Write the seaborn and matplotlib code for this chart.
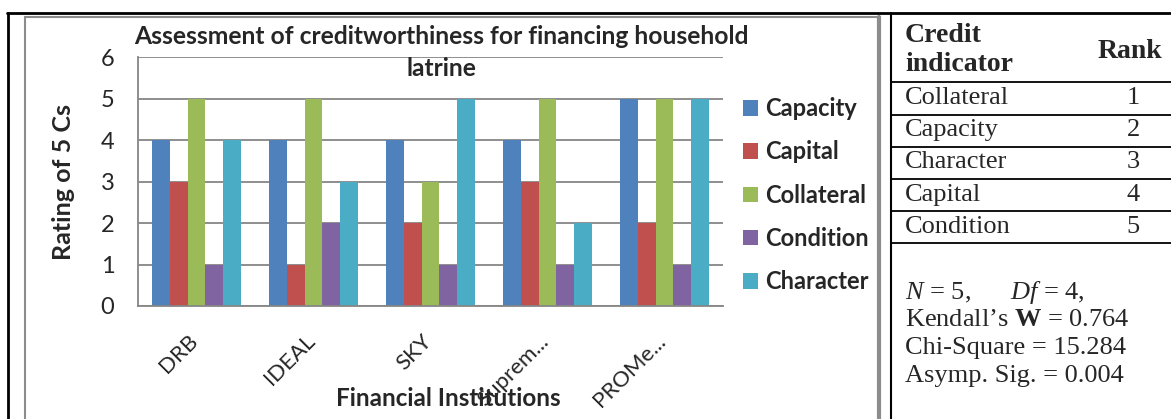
import numpy as np
import pandas as pd
import seaborn as sns
from matplotlib import pyplot as plt
from matplotlib.lines import Line2D
from matplotlib.transforms import ScaledTranslation

# Chart data
institutions = ["DRB", "IDEAL", "SKY", "Suprem...", "PROMe..."]
indicators = ["Capacity", "Capital", "Collateral", "Condition", "Character"]
capacity = [4, 4, 4, 4, 5]
capital = [3, 1, 2, 3, 2]
collateral = [5, 5, 3, 5, 5]
condition = [1, 2, 1, 1, 1]
character = [4, 3, 5, 2, 5]
colors = ["#4F81BD", "#C0504D", "#9BBB59", "#8064A2", "#4BACC6"]
y_ticks = [0, 1, 2, 3, 4, 5, 6]

# Rank table next to the chart
rank_names = ["Collateral", "Capacity", "Character", "Capital", "Condition"]
rank_values = [1, 2, 3, 4, 5]

# Long format frame for seaborn
series = [capacity, capital, collateral, condition, character]
rows = []
for name, vals in zip(indicators, series):
    for inst, v in zip(institutions, vals):
        rows.append({"institution": inst, "indicator": name, "rating": v})
df = pd.DataFrame(rows)

sns.set_style("white")
plt.rcParams['font.family'] = ['Lato', 'DejaVu Sans']
plt.rcParams['mathtext.fontset'] = 'custom'
plt.rcParams['mathtext.rm'] = 'Liberation Serif'
plt.rcParams['mathtext.it'] = 'Liberation Serif:italic'
plt.rcParams['mathtext.bf'] = 'Liberation Serif:bold'

W, H = 1171, 419
fig = plt.figure(figsize=(W / 100, H / 100), dpi=100)

def fx(px):
    return px / W

def fy(py):
    return 1 - py / H

ax = fig.add_axes([fx(138), fy(306), 585 / W, 249 / H])
sns.barplot(data=df, x="institution", y="rating", hue="indicator",
            palette=colors, width=0.76, saturation=1, edgecolor="none",
            linewidth=0, ax=ax)

grid_c = "#868686"
ax.set_ylim(0, 6)
ax.set_xlim(-0.5, len(institutions) - 0.5)
ax.set_yticks(y_ticks)
ax.yaxis.grid(True, color=grid_c, lw=1.3)
ax.set_axisbelow(True)
for s in ["top", "right"]:
    ax.spines[s].set_visible(False)
for s in ["left", "bottom"]:
    ax.spines[s].set_color(grid_c)
    ax.spines[s].set_linewidth(1.3)
ax.tick_params(axis="y", length=9, color=grid_c, width=1.3, labelsize=17, pad=8)
ax.set_xticks(np.arange(-0.5, len(institutions), 1.0), minor=True)
ax.tick_params(axis="x", which="minor", length=7, color=grid_c, width=1.3, direction="out")
ax.tick_params(axis="x", which="major", length=0, labelsize=16, pad=18)
ax.set_xticks(range(len(institutions)))
ax.set_xticklabels(institutions, rotation=45, ha="right", va="top")
shift = ScaledTranslation(5 / 100, 0, fig.dpi_scale_trans)
for lbl in ax.get_xticklabels():
    lbl.set_transform(lbl.get_transform() + shift)

ax.set_xlabel("Financial Institutions", fontsize=17.5, fontweight="bold")
ax.xaxis.set_label_coords((448 - 138) / 585, (306 - 387) / 249)
ax.set_ylabel("Rating of 5 Cs", fontsize=18, fontweight="bold")
ax.yaxis.set_label_coords((75 - 138) / 585, (306 - 182) / 249)

fig.text(fx(441), fy(37), "Assessment of creditworthiness for financing household",
         ha="center", va="center", fontsize=17.7, fontweight="bold")
fig.text(fx(441), fy(68), "latrine", ha="center", va="center",
         fontsize=17.7, fontweight="bold")

handles, labels = ax.get_legend_handles_labels()
ax.legend(handles, labels, loc="upper left", bbox_to_anchor=(fx(743), fy(97)),
          bbox_transform=fig.transFigure, frameon=False, borderpad=0,
          borderaxespad=0, handlelength=0.64, handleheight=0.64,
          handletextpad=0.3, labelspacing=0.86,
          prop={"weight": "bold", "size": 17})

# frames around chart and table
def hline(y, x0, x1, color="black", lw=1.5):
    fig.add_artist(Line2D([fx(x0), fx(x1)], [fy(y), fy(y)], color=color, lw=lw))

def vline(x, y0, y1, color="black", lw=1.5):
    fig.add_artist(Line2D([fx(x), fx(x)], [fy(y0), fy(y1)], color=color, lw=lw))

hline(13, 7, W, lw=2)
vline(8, 13, H, lw=2)
hline(17, 25, 880, color="#8c8c8c", lw=1.5)
vline(25, 17, H, color="#8c8c8c", lw=1.5)
vline(879, 17, H, color="#8c8c8c", lw=3)
vline(891, 13, H, lw=1.5)
for y in [82, 115, 147, 179, 211, 243]:
    hline(y, 891, W, lw=1.3)

serif = ["Liberation Serif", "DejaVu Serif"]
fig.text(fx(905), fy(36), "Credit", ha="left", va="center", fontsize=20,
         fontweight="bold", family=serif)
fig.text(fx(905), fy(64), "indicator", ha="left", va="center", fontsize=20,
         fontweight="bold", family=serif)
fig.text(fx(1162), fy(51), "Rank", ha="right", va="center", fontsize=20,
         fontweight="bold", family=serif)
for i, (name, r) in enumerate(zip(rank_names, rank_values)):
    yc = 98 + i * 32.2
    fig.text(fx(905), fy(yc), name, ha="left", va="center", fontsize=19, family=serif)
    fig.text(fx(1140), fy(yc), str(r), ha="right", va="center", fontsize=19, family=serif)

stats = [r"$\mathit{N}$ = 5,      $\mathit{Df}$ = 4,",
         r"Kendall’s $\mathbf{W}$ = 0.764",
         "Chi-Square = 15.284",
         "Asymp. Sig. = 0.004"]
for i, line in enumerate(stats):
    fig.text(fx(905), fy(293 + i * 27.5), line, ha="left", va="center",
             fontsize=19, family=serif)

plt.savefig("out.png", dpi=100)
